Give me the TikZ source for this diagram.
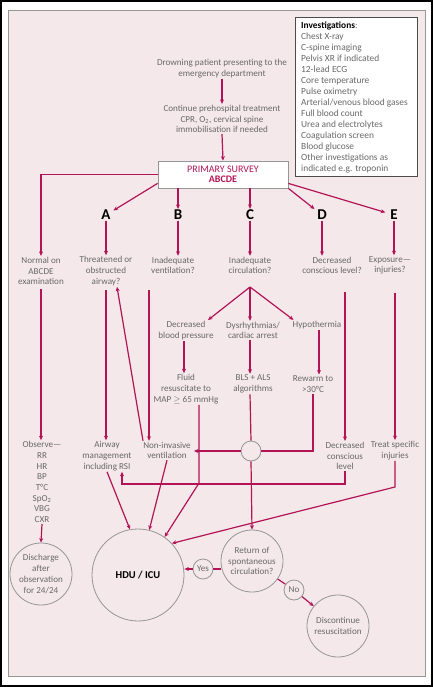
\documentclass[tikz,border=0pt]{standalone}
\usepackage{fontspec}
\setmainfont{Carlito}
\usetikzlibrary{calc,arrows.meta}
\definecolor{crim}{RGB}{178,20,85}
\definecolor{bgpink}{RGB}{244,232,235}
\definecolor{tgray}{RGB}{105,105,105}
\definecolor{cgray}{RGB}{150,150,150}
\begin{document}
\begin{tikzpicture}[x=1pt,y=-1pt,
 txt/.style={text=tgray, font=\fontsize{9.1}{10.7}\selectfont, align=center, inner sep=1pt},
 letter/.style={font=\fontsize{15}{15}\selectfont\bfseries, inner sep=1pt},
 arr/.style={draw=crim, line width=1.2pt, -{Stealth[length=4.5pt,width=4pt]}},
 ln/.style={draw=crim, line width=1.2pt},
 circ/.style={txt, circle, draw=cgray, line width=0.8pt, inner sep=0pt},
]
\useasboundingbox (0,0) rectangle (433,687);
\draw[black, line width=2pt] (1,1) rectangle (432,686);
\draw[fill=bgpink, draw=cgray, line width=0.8pt] (8,10) rectangle (425,676);

% investigations
\node[draw=black!70, fill=white, line width=0.8pt, minimum width=122pt, minimum height=159pt, anchor=north west, inner sep=0pt] (inv) at (295,17) {};
\node[anchor=north west, align=left, text=tgray, font=\fontsize{9.4}{11}\selectfont, inner sep=1pt] (invt) at (300,21)
 {\textcolor{black}{\textbf{Investigations}}:\\Chest X-ray\\C-spine imaging\\Pelvis XR if indicated\\12-lead ECG\\Core temperature\\Pulse oximetry\\Arterial/venous blood gases\\Full blood count\\Urea and electrolytes\\Coagulation screen\\Blood glucose\\Other investigations as\\indicated e.g. troponin};

% top
\node[txt] (start) at (222,68.5) {Drowning patient presenting to the\\emergency department};
\node[txt] (cont) at (222,119) {Continue prehospital treatment\\CPR, O\textsubscript{2}, cervical spine\\immobilisation if needed};
\node[draw=cgray, fill=white, line width=0.8pt, minimum width=130pt, minimum height=27pt, text=crim, align=center, font=\fontsize{10}{10.5}\selectfont, inner sep=1pt] (ps) at (223,174.5) {PRIMARY SURVEY\\\textbf{ABCDE}};
\draw[arr] (start.south) -- (cont.north);
\draw[arr] (cont.south) -- (ps.north);

% letters
\node[letter] (A) at (106,215) {A};
\node[letter] (B) at (178,215) {B};
\node[letter] (C) at (250,215) {C};
\node[letter] (D) at (322,215) {D};
\node[letter] (E) at (394,215) {E};
\draw[arr, shorten >=2pt] ($(ps.south west)+(0,-5)$) -- (A);
\draw[arr] (ps.south -| B) -- (B.north);
\draw[arr] (ps.south -| C) -- (C.north);
\draw[arr, shorten >=2pt] (ps.south east) -- (D);
\draw[arr, shorten >=4pt] ($(ps.south east)+(0,-5)$) -- (E);

% row 1
\node[txt] (normal) at (41,271) {Normal on\\ABCDE\\examination};
\node[txt] (thr) at (106,271) {Threatened or\\obstructed\\airway?};
\node[txt] (ivent) at (173,265.5) {Inadequate\\ventilation?};
\node[txt] (icirc) at (250,265.5) {Inadequate\\circulation?};
\node[txt] (dcl) at (332,265.5) {Decreased\\conscious level?};
\node[txt] (exp) at (390,265.5) {Exposure—\\injuries?};
\draw[arr] (ps.west) -| (normal.north);
\draw[arr] (A.south) -- (thr.north);
\draw[arr] (B.south) -- (B |- ivent.north);
\draw[arr] (C.south) -- (icirc.north);
\draw[arr] (D.south) -- (D |- dcl.north);
\draw[arr] (E.south) -- (E |- exp.north);

% circulation branch
\coordinate (cf) at (250,287);
\node[txt] (dbp) at (186,330.5) {Decreased\\blood pressure};
\node[txt] (dys) at (253,330.5) {Dysrhythmias/\\cardiac arrest};
\node[txt] (hyp) at (317,325) {Hypothermia};
\draw[arr] (cf) -- ([xshift=22pt]dbp.north);
\draw[arr] (cf) -- (cf |- dys.north);
\draw[arr] (cf) -- ([xshift=2pt]hyp.north west);

\node[txt] (fluid) at (186,389) {Fluid\\resuscitate to\\MAP $\geq$ 65 mmHg};
\node[txt] (bls) at (253,384) {BLS + ALS\\algorithms};
\node[txt] (rew) at (313,384) {Rewarm to\\>30°C};
\draw[arr] ([xshift=-2pt]dbp.south) -- ([xshift=-2pt]dbp.south |- fluid.north);
\draw[arr] (dys.south -| cf) -- (bls.north -| cf);
\draw[arr] ([xshift=2pt]hyp.south) -- ([xshift=2pt]hyp.south |- rew.north);

% row 3
\node[txt] (observe) at (42,482) {Observe—\\RR\\HR\\BP\\T°C\\SpO\textsubscript{2}\\VBG\\CXR};
\node[txt] (airway) at (107,456) {Airway\\management\\including RSI};
\node[txt] (niv) at (167,450.5) {Non-invasive\\ventilation};
\node[txt] (dcl2) at (345,456) {Decreased\\conscious\\level};
\node[txt] (treat) at (395,450.5) {Treat specific\\injuries};
\node[circ, minimum size=20pt] (cc) at (251,451) {};

\draw[arr, shorten <=3pt] (normal.south) -- (normal.south |- observe.north);
\draw[arr, shorten <=3pt] (thr.south -| A) -- (airway.north -| A);
\draw[arr] ([xshift=-24pt]niv.north) -- ([xshift=11pt]thr.south);
\draw[arr, shorten <=15pt] ([xshift=-24pt]ivent.south) -- ([xshift=-24pt]ivent.south |- niv.north);
\draw[arr, shorten <=17pt] (dcl.south -| dcl2.north) -- (dcl2.north);
\draw[arr, shorten <=17pt] (exp.south -| treat.north) -- (treat.north);
\draw[ln] (bls.south -| cf) -- (cc.north);
\draw[ln] (rew.south) |- (cc.east);
\draw[arr, shorten >=2pt] (cc.west) -- (cc.west -| niv.east);

% bottom circles
\node[circ, minimum size=92pt, text=black, font=\fontsize{10.5}{12}\selectfont\bfseries] (hdu) at (138,575) {HDU / ICU};
\node[circ, minimum size=62pt] (rosc) at (252,561) {Return of\\spontaneous\\circulation?};
\node[circ, minimum size=20pt] (yes) at (203,569) {Yes};
\node[circ, minimum size=20pt] (no) at (294,590) {No};
\node[circ, minimum size=62pt] (disc) at (338,626) {Discontinue\\resuscitation};
\node[circ, minimum size=62pt] (dis) at (41,574) {Discharge\\after\\observation\\for 24/24};

\draw[arr] (airway.south) -- (hdu.100);
\draw[arr] (niv.south) -- (hdu.76);
\draw[arr] ([xshift=13pt]fluid.south) -- ([xshift=13pt]fluid.south |- dcl2.south) -- ++(0,12) -- (hdu.55);
\draw[arr] (dcl2.south) -- ++(0,13) -| ([xshift=15pt]airway.south);
\draw[arr] (treat.south) -- ++(0,26) -- (hdu.43);
\draw[arr] (cc.south) -- (rosc.north);
\draw[ln] (rosc.west |- yes.east) -- (yes.east);
\draw[arr] (yes.west) -- (yes.west -| hdu.east);
\draw[ln] (rosc.-35) -- (no);
\draw[arr] (no) -- (disc);
\draw[arr] (observe.south) -- (dis.north);
\end{tikzpicture}
\end{document}
